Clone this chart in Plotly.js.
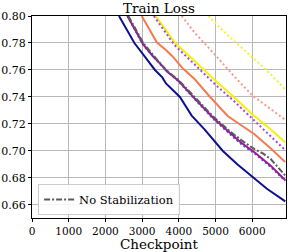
<!DOCTYPE html>
<html>
<head>
<meta charset="utf-8">
<script src="https://cdn.plot.ly/plotly-3.0.1.min.js"></script>
<style>html,body{margin:0;padding:0;background:#fff;}#chart{width:289px;height:252px;}</style>
</head>
<body>
<div id="chart"></div>
<script>
// Checkpoint / loss readings per series
const navyX = [2370, 2790, 3100, 3350, 3550, 3650, 4030, 4350, 4700, 5200, 5600, 6050, 6400, 6900];
const navyY = [0.800, 0.780, 0.769, 0.760, 0.7545, 0.750, 0.740, 0.7262, 0.716, 0.700, 0.690, 0.680, 0.672, 0.6626];

const noStabX = [2625, 3030, 3300, 3520, 3670, 3990, 4430, 4920, 5330, 5700, 6060, 6300, 6510, 6700, 6900];
const noStabY = [0.800, 0.780, 0.771, 0.7644, 0.7595, 0.7526, 0.7398, 0.7259, 0.716, 0.708, 0.7013, 0.698, 0.6938, 0.688, 0.6818];

const purpleX = [2600, 3030, 3300, 3520, 3670, 3990, 4430, 4920, 5330, 5700, 6060, 6510, 6900];
const purpleY = [0.800, 0.779, 0.770, 0.7640, 0.759, 0.752, 0.739, 0.7250, 0.7150, 0.706, 0.699, 0.6889, 0.6783];

const blueDotX = [2600, 3030, 3520, 3990, 4430, 4920, 5330, 5700, 6060, 6510, 6900];
const blueDotY = [0.800, 0.7785, 0.7635, 0.7515, 0.7385, 0.7243, 0.7140, 0.705, 0.6982, 0.6880, 0.6778];

const orangeX = [2990, 3400, 3670, 3810, 4125, 4430, 4780, 5330, 5700, 6060, 6500, 6900];
const orangeY = [0.800, 0.7805, 0.7743, 0.7706, 0.7607, 0.7533, 0.7422, 0.7259, 0.719, 0.7124, 0.702, 0.6917];

const yellowX = [3370, 3900, 4420, 5000, 5500, 6010, 6500, 6900];
const yellowY = [0.800, 0.780, 0.767, 0.752, 0.740, 0.727, 0.716, 0.7062];

const violetDotX = [3320, 3880, 4420, 5000, 5500, 5920, 6400, 6900];
const violetDotY = [0.800, 0.7785, 0.7644, 0.749, 0.737, 0.726, 0.713, 0.7005];

const salmonDotX = [4080, 4420, 5010, 5500, 6010, 6500, 6900];
const salmonDotY = [0.800, 0.788, 0.7706, 0.7555, 0.741, 0.731, 0.723];

const yellowDotX = [4800, 5400, 6020, 6500, 6900];
const yellowDotY = [0.800, 0.784, 0.769, 0.757, 0.7455];

const xTicks = [0, 1000, 2000, 3000, 4000, 5000, 6000];
const yTicks = [0.66, 0.68, 0.70, 0.72, 0.74, 0.76, 0.78, 0.80];
const legendName = "No Stabilization";

function tr(x, y, color, dash, show, name) {
  return {x: x, y: y, type: 'scatter', mode: 'lines', name: name || '',
    showlegend: !!show, line: {color: color, width: 2, dash: dash}, hoverinfo: 'skip'};
}

const data = [
  tr(yellowDotX, yellowDotY, '#f2f03a', '2px,2.5px'),
  tr(salmonDotX, salmonDotY, '#f79a88', '2px,2.5px'),
  tr(yellowX, yellowY, '#f2f20a', 'solid'),
  tr(violetDotX, violetDotY, '#b046d8', '2px,2.5px'),
  tr(orangeX, orangeY, '#f57a50', 'solid'),
  tr(navyX, navyY, '#10108f', 'solid'),
  tr(blueDotX, blueDotY, '#4b5bd6', '2px,2.5px'),
  tr(purpleX, purpleY, '#9a189a', 'solid'),
  tr(noStabX, noStabY, '#5a5a5a', '6px,2px,2px,2px', true, legendName)
];

const font = {family: 'DejaVu Serif', color: '#000'};
const layout = {
  width: 289, height: 252,
  margin: {l: 32, r: 3, t: 16, b: 34},
  paper_bgcolor: '#fff', plot_bgcolor: '#fff',
  font: {family: 'DejaVu Serif', size: 11, color: '#000'},
  title: {text: 'Train Loss', font: Object.assign({size: 13.5}, font), x: 0.55, xanchor: 'center', y: 0.966, yanchor: 'middle'},
  xaxis: {
    range: [0, 6920], tickvals: xTicks, ticktext: xTicks.map(String),
    showgrid: true, gridcolor: '#b8b8b8', gridwidth: 1, zeroline: false,
    showline: true, mirror: true, linecolor: '#000', linewidth: 1,
    ticks: 'outside', ticklen: 3, tickcolor: '#000',
    tickfont: Object.assign({size: 10.5}, font),
    title: {text: 'Checkpoint', font: Object.assign({size: 13.5}, font), standoff: 1}
  },
  yaxis: {
    range: [0.6503, 0.80], tickvals: yTicks, ticktext: yTicks.map(v => v.toFixed(2)),
    showgrid: true, gridcolor: '#b8b8b8', gridwidth: 1, zeroline: false,
    showline: true, mirror: true, linecolor: '#000', linewidth: 1,
    ticks: 'outside', ticklen: 3, tickcolor: '#000',
    tickfont: Object.assign({size: 11}, font)
  },
  showlegend: true,
  legend: {
    x: 0.024, y: 0.015, xanchor: 'left', yanchor: 'bottom',
    bgcolor: 'rgba(255,255,255,0.85)', bordercolor: '#cccccc', borderwidth: 1,
    font: Object.assign({size: 11.5}, font), itemwidth: 30
  }
};

Plotly.newPlot('chart', data, layout, {displayModeBar: false, staticPlot: true});
</script>
</body>
</html>
